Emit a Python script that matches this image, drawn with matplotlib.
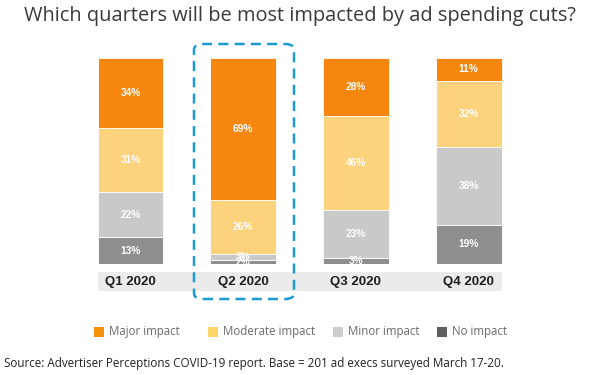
import matplotlib
matplotlib.use("Agg")
import matplotlib.pyplot as plt
from matplotlib.patches import Rectangle, FancyBboxPatch

quarters = ["Q1 2020", "Q2 2020", "Q3 2020", "Q4 2020"]
series = ["Major impact", "Moderate impact", "Minor impact", "No impact"]
# values listed bottom-to-top: No, Minor, Moderate, Major
no_impact = [13, 2, 3, 19]
minor_impact = [22, 3, 23, 38]
moderate_impact = [31, 26, 46, 32]
major_impact = [34, 69, 28, 11]

colors = {"Major impact": "#f7860f", "Moderate impact": "#fdd27c",
          "Minor impact": "#c9c9c9", "No impact": "#8e8e8e"}
legend_colors = {"Major impact": "#f7900f", "Moderate impact": "#fdd56b",
                 "Minor impact": "#cccccc", "No impact": "#5f5f5f"}

W, H = 600, 375
fig = plt.figure(figsize=(6, 3.75), dpi=100)
fig.patch.set_facecolor("white")

def fx(x):
    return x / W

def fy(y):
    return 1 - y / H

font = "Open Sans"

fig.text(fx(300), fy(16), "Which quarters will be most impacted by ad spending cuts?",
         ha="center", va="center", fontsize=14.4, color="#3a3a3a", family=font)

# bar axes
ax = fig.add_axes([fx(80), fy(264), fx(440), fy(58) - fy(264)])
ax.set_xlim(-0.448, 3.456)
ax.set_ylim(0, 100)
ax.axis("off")

stack = [("No impact", no_impact), ("Minor impact", minor_impact),
         ("Moderate impact", moderate_impact), ("Major impact", major_impact)]
bottoms = [0, 0, 0, 0]
xs = range(len(quarters))
for name, vals in stack:
    ax.bar(xs, vals, bottom=bottoms, width=0.585, color=colors[name],
           edgecolor="white", linewidth=0.6)
    for i, v in enumerate(vals):
        ax.text(i, bottoms[i] + v / 2, f"{v}%", ha="center", va="center",
                fontsize=7.3, fontweight="bold", color="white",
                family="Liberation Sans")
    bottoms = [b + v for b, v in zip(bottoms, vals)]

# category band
fig.patches.append(Rectangle((fx(98), fy(291)), fx(404), fy(272) - fy(291),
                             transform=fig.transFigure, facecolor="#ebebeb",
                             edgecolor="none"))
for i, q in enumerate(quarters):
    xp = 130.5 + 112.7 * i
    fig.text(fx(xp), fy(281.5), q, ha="center", va="center", fontsize=9.5,
             fontweight="bold", color="#1e1e1e", family="Liberation Sans")

# dashed highlight box around Q2
fig.patches.append(FancyBboxPatch((fx(194), fy(299)), fx(100), fy(44) - fy(299),
                                  boxstyle="round,pad=0,rounding_size=0.015",
                                  transform=fig.transFigure, facecolor="none",
                                  edgecolor="#1b9ad6", linewidth=1.8,
                                  linestyle=(0, (4, 2.5))))

# legend
leg_x = [94, 208, 333, 437]
for name, x in zip(series, leg_x):
    fig.patches.append(Rectangle((fx(x), fy(337)), fx(10), fy(327) - fy(337),
                                 transform=fig.transFigure,
                                 facecolor=legend_colors[name], edgecolor="none"))
    fig.text(fx(x + 15), fy(332), name, ha="left", va="center", fontsize=8.3,
             color="#6a6a6a", family=font)

fig.text(fx(4), fy(363), "Source: Advertiser Perceptions COVID-19 report. Base = 201 ad execs surveyed March 17-20.",
         ha="left", va="center", fontsize=8.35, color="#222222", family=font)

fig.savefig("out.png", dpi=100)
